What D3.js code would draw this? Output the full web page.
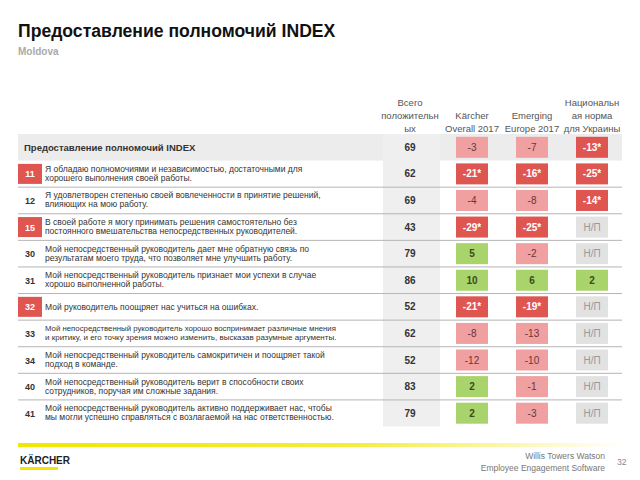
<!DOCTYPE html>
<html><head><meta charset="utf-8">
<script src="https://cdn.jsdelivr.net/npm/d3@7"></script>
<style>body{margin:0;background:#fff}svg{display:block;font-family:"Liberation Sans",Arial,sans-serif}</style>
</head><body><svg id="c" width="640" height="480"></svg>
<script>
const title = "Предоставление полномочий INDEX";
const subtitle = "Moldova";
const columns = ["total", "karcher", "emerging", "national"];
const columnHeaders = [
  ["Всего", "положительн", "ых"],
  ["", "Kärcher", "Overall 2017"],
  ["", "Emerging", "Europe 2017"],
  ["Национальн", "ая норма", "для Украины"]
];
const rowIds = ["INDEX", "11", "12", "15", "30", "31", "32", "33", "34", "40", "41"];
const highlighted = ["11", "15", "32"];
const rowTexts = [
  ["Предоставление полномочий INDEX"],
  ["Я обладаю полномочиями и независимостью, достаточными для", "хорошего выполнения своей работы."],
  ["Я удовлетворен степенью своей вовлеченности в принятие решений,", "влияющих на мою работу."],
  ["В своей работе я могу принимать решения самостоятельно без", "постоянного вмешательства непосредственных руководителей."],
  ["Мой непосредственный руководитель дает мне обратную связь по", "результатам моего труда, что позволяет мне улучшить работу."],
  ["Мой непосредственный руководитель признает мои успехи в случае", "хорошо выполненной работы."],
  ["Мой руководитель поощряет нас учиться на ошибках."],
  ["Мой непосредственный руководитель хорошо воспринимает различные мнения", "и критику, и его точку зрения можно изменить, высказав разумные аргументы."],
  ["Мой непосредственный руководитель самокритичен и поощряет такой", "подход в команде."],
  ["Мой непосредственный руководитель верит в способности своих", "сотрудников, поручая им сложные задания."],
  ["Мой непосредственный руководитель активно поддерживает нас, чтобы", "мы могли успешно справляться с возлагаемой на нас ответственностью."]
];
const totalPositive = [69, 62, 69, 43, 79, 86, 52, 62, 52, 83, 79];
const karcherDiff   = [-3, -21, -4, -29, 5, 10, -21, -8, -12, 2, 2];
const karcherSig    = [0, 1, 0, 1, 0, 0, 1, 0, 0, 0, 0];
const emergingDiff  = [-7, -16, -8, -25, -2, 6, -19, -13, -10, -1, -3];
const emergingSig   = [0, 1, 0, 1, 0, 0, 1, 0, 0, 0, 0];
const nationalDiff  = [-13, -25, -14, null, null, 2, null, null, null, null, null];
const nationalSig   = [1, 1, 1, 0, 0, 0, 0, 0, 0, 0, 0];
const naLabel = "Н/П";

const svg = d3.select("#c");
const x = d3.scaleBand().domain(columns).range([382, 622]);
const y = d3.scaleBand().domain(rowIds).range([134, 426.5]);
const rh = y.bandwidth();

// Title
svg.append("text").attr("x", 18).attr("y", 37).attr("font-size", 17.6).attr("font-weight", "bold").attr("fill", "#111").text(title);
svg.append("text").attr("x", 18).attr("y", 55).attr("font-size", 10).attr("font-weight", "bold").attr("fill", "#aaa").text(subtitle);

// Headers
columns.forEach((c, i) => {
  columnHeaders[i].forEach((t, j) => {
    if (!t) return;
    svg.append("text").attr("x", x(c) + x.bandwidth() / 2 - (i === 0 ? 2 : 0)).attr("y", 106 + j * 13)
      .attr("text-anchor", "middle").attr("font-size", 9.5).attr("fill", "#555").text(t);
  });
});

// Index row background
svg.append("rect").attr("x", 18).attr("y", y("INDEX")).attr("width", 604).attr("height", rh).attr("fill", "#ececec");
// total column background
svg.append("rect").attr("x", x("total") + 1).attr("y", y("INDEX")).attr("width", 57).attr("height", y.range()[1] - y("INDEX")).attr("fill", "#efefef");

// separators
rowIds.slice(1, -1).forEach(id => {
  svg.append("line").attr("x1", 18).attr("x2", 622).attr("y1", y(id) + rh).attr("y2", y(id) + rh)
    .attr("stroke", "#b5b5b5").attr("stroke-width", 1);
});

// Row labels
rowIds.forEach((id, i) => {
  const cy = y(id) + rh / 2;
  if (id === "INDEX") {
    svg.append("text").attr("x", 24).attr("y", cy + 3.5).attr("font-size", 9.5).attr("font-weight", "bold").attr("fill", "#333").text(rowTexts[i][0]);
    return;
  }
  if (highlighted.includes(id)) {
    svg.append("rect").attr("x", 18).attr("y", cy - 10).attr("width", 24).attr("height", 20).attr("fill", "#df5550");
  }
  svg.append("text").attr("x", 30).attr("y", cy + 3.5).attr("text-anchor", "middle").attr("font-size", 9).attr("font-weight", "bold")
    .attr("fill", highlighted.includes(id) ? "#fff" : "#333").text(id);
  const lines = rowTexts[i];
  if (lines.length === 1) {
    svg.append("text").attr("x", 45).attr("y", cy + 3.5).attr("font-size", 8.5).attr("fill", "#333").text(lines[0]);
  } else {
    lines.forEach((t, j) => {
      const el = svg.append("text").attr("x", 45).attr("y", cy - 2 + j * 9).attr("font-size", 8.5).attr("fill", "#333").text(t);
      let fs = 8.5;
      while (el.node().getComputedTextLength() > 293 && fs > 6) { fs -= 0.1; el.attr("font-size", fs); }
    });
  }
});

// Cells
const colData = { karcher: [karcherDiff, karcherSig], emerging: [emergingDiff, emergingSig], national: [nationalDiff, nationalSig] };
rowIds.forEach((id, i) => {
  const cy = y(id) + rh / 2;
  svg.append("text").attr("x", x("total") + x.bandwidth() / 2 - 2).attr("y", cy + 3.5).attr("text-anchor", "middle")
    .attr("font-size", 10).attr("font-weight", "bold").attr("fill", "#333").text(totalPositive[i]);
  ["karcher", "emerging", "national"].forEach(c => {
    const v = colData[c][0][i], s = colData[c][1][i];
    let fill, tc, label, fw = "bold";
    if (v === null) { fill = "#e2e2e2"; tc = "#999"; label = naLabel; fw = "normal"; }
    else if (v < 0 && s) { fill = "#df5550"; tc = "#fff"; label = v + "*"; }
    else if (v < 0) { fill = "#f0a0a0"; tc = "#6a3535"; label = String(v); fw = "normal"; }
    else { fill = "#a9d46b"; tc = "#3a4a20"; label = String(v); }
    const cx = x(c) + x.bandwidth() / 2;
    svg.append("rect").attr("x", cx - 16).attr("y", cy - 10.5).attr("width", 32).attr("height", 21).attr("fill", fill);
    svg.append("text").attr("x", cx).attr("y", cy + 3.5).attr("text-anchor", "middle").attr("font-size", 10)
      .attr("font-weight", fw).attr("fill", tc).text(label);
  });
});

// Footer
const defs = svg.append("defs");
const g = defs.append("linearGradient").attr("id", "yl").attr("x1", "0%").attr("x2", "100%");
g.append("stop").attr("offset", "0%").attr("stop-color", "#f2e600");
g.append("stop").attr("offset", "55%").attr("stop-color", "#f6ec3a");
g.append("stop").attr("offset", "100%").attr("stop-color", "#ffffff");
svg.append("rect").attr("x", 18).attr("y", 443).attr("width", 604).attr("height", 4).attr("fill", "url(#yl)");
svg.append("text").attr("x", 20).attr("y", 464).attr("font-size", 10).attr("font-weight", "bold").attr("fill", "#222").text("KÄRCHER");
svg.append("rect").attr("x", 20).attr("y", 467).attr("width", 38).attr("height", 3).attr("fill", "#f2e600");
svg.append("text").attr("x", 605).attr("y", 459).attr("text-anchor", "end").attr("font-size", 8.5).attr("fill", "#777").text("Willis Towers Watson");
svg.append("text").attr("x", 605).attr("y", 471).attr("text-anchor", "end").attr("font-size", 8.5).attr("fill", "#777").text("Employee Engagement Software");
svg.append("text").attr("x", 617).attr("y", 465).attr("font-size", 8.5).attr("fill", "#888").text("32");
</script></body></html>
